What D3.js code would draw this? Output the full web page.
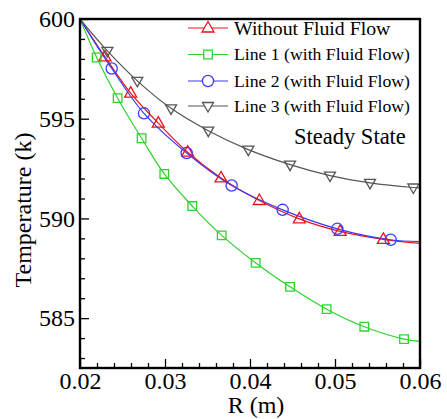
<!DOCTYPE html>
<html><head><meta charset="utf-8">
<script src="https://cdn.jsdelivr.net/npm/d3@7"></script>
<style>
html,body{margin:0;padding:0;background:#fff;}
</style></head>
<body>
<svg id="chart" width="447" height="419"></svg>
<script>
// ---- data ----
const xTicks = [0.02, 0.03, 0.04, 0.05, 0.06];
const yTicks = [585, 590, 595, 600];
const seriesNames = ["Without Fluid Flow", "Line 1 (with Fluid Flow)", "Line 2 (with Fluid Flow)", "Line 3 (with Fluid Flow)"];
// first and last entries are curve ends (no markers); inner entries carry markers
const rNoFlow = [0.02, 0.02294, 0.02596, 0.02921, 0.03267, 0.03659, 0.0411, 0.0458, 0.0506, 0.05569, 0.06];
const tNoFlow = [600, 598.1, 596.28, 594.78, 593.32, 592.03, 590.9, 589.98, 589.35, 588.95, 588.75];
const rLine1 = [0.02, 0.02196, 0.02443, 0.02725, 0.02992, 0.03321, 0.03667, 0.04067, 0.04471, 0.04902, 0.05345, 0.05812, 0.06];
const tLine1 = [600, 598.07, 596.03, 594.02, 592.23, 590.62, 589.15, 587.77, 586.57, 585.45, 584.57, 583.95, 583.83];
const rLine2 = [0.02, 0.02373, 0.02753, 0.03255, 0.03784, 0.04384, 0.05027, 0.05655, 0.06];
const tLine2 = [600, 597.52, 595.27, 593.28, 591.65, 590.43, 589.48, 588.93, 588.84];
const rLine3 = [0.02, 0.02322, 0.02674, 0.03071, 0.03509, 0.0398, 0.04471, 0.04941, 0.05412, 0.05922, 0.06];
const tLine3 = [600, 598.4, 596.9, 595.52, 594.4, 593.45, 592.7, 592.15, 591.78, 591.55, 591.53];
const seriesColors = ["#e8141c", "#2fd12f", "#3b3bff", "#555555"];
const seriesMarkers = ["triUp", "square", "circle", "triDown"];

const FONT = '"Liberation Serif", "Times New Roman", serif';

// ---- layout ----
const L = 80, R = 420, T = 19, B = 368;
const svg = d3.select("#chart");
const x = d3.scaleLinear().domain([0.02, 0.06]).range([L, R]);
const y = d3.scaleLinear().domain([582.5, 600]).range([B, T]);

const series = [
  {r: rNoFlow, t: tNoFlow},
  {r: rLine1, t: tLine1},
  {r: rLine2, t: tLine2},
  {r: rLine3, t: tLine3}
].map((s, i) => ({name: seriesNames[i], color: seriesColors[i], marker: seriesMarkers[i],
  pts: s.r.map((rv, j) => ({r: rv, t: s.t[j]}))}));

function markerPath(type) {
  switch (type) {
    case "triUp": return "M0,-6.5L6,4L-6,4Z";
    case "triDown": return "M0,6L5.5,-3.5L-5.5,-3.5Z";
    case "square": return "M-4.3,-4.3H4.3V4.3H-4.3Z";
    case "circle": return "M5.6,0A5.6,5.6 0 1,1 -5.6,0A5.6,5.6 0 1,1 5.6,0Z";
  }
}

// minor ticks
const xMinor = d3.range(0.02, 0.0601, 0.002).map(v => +v.toFixed(3)).filter(v => !xTicks.some(t => Math.abs(t - v) < 1e-9));
const yMinor = d3.range(583, 600.01, 1).filter(v => v % 5 !== 0);

const gx = svg.append("g").attr("transform", `translate(0,${B})`)
  .call(d3.axisBottom(x).tickValues(xTicks).tickFormat(d3.format(".2f")).tickSizeInner(-9).tickSizeOuter(0).tickPadding(4));
const gxm = svg.append("g").attr("transform", `translate(0,${B})`)
  .call(d3.axisBottom(x).tickValues(xMinor).tickFormat("").tickSizeInner(-5).tickSizeOuter(0));
const gy = svg.append("g").attr("transform", `translate(${L},0)`)
  .call(d3.axisLeft(y).tickValues(yTicks).tickFormat(d3.format("d")).tickSizeInner(-9).tickSizeOuter(0).tickPadding(5));
const gym = svg.append("g").attr("transform", `translate(${L},0)`)
  .call(d3.axisLeft(y).tickValues(yMinor).tickFormat("").tickSizeInner(-5).tickSizeOuter(0));
[gx, gxm, gy, gym].forEach(g => {
  g.attr("font-family", null);
  g.select(".domain").remove();
  g.selectAll(".tick line").attr("stroke", "#000").attr("stroke-width", 1.3);
  g.selectAll(".tick text").style("font-family", FONT).attr("font-size", 24).attr("fill", "#000");
});

// curves
const line = d3.line().x(d => x(d.r)).y(d => y(d.t)).curve(d3.curveCatmullRom.alpha(0.5));
svg.append("clipPath").attr("id", "clip").append("rect")
  .attr("x", L).attr("y", T).attr("width", R - L).attr("height", B - T);
const plot = svg.append("g").attr("clip-path", "url(#clip)");
series.forEach(s => {
  plot.append("path").attr("d", line(s.pts)).attr("fill", "none")
    .attr("stroke", s.color).attr("stroke-width", 1.2);
});
series.forEach(s => {
  svg.append("g").selectAll("path").data(s.pts.slice(1, -1)).join("path")
    .attr("transform", d => `translate(${x(d.r)},${y(d.t)})`)
    .attr("d", markerPath(s.marker)).attr("fill", "none")
    .attr("stroke", s.color).attr("stroke-width", 1.3);
});

// frame
svg.append("rect").attr("x", L).attr("y", T).attr("width", R - L).attr("height", B - T)
  .attr("fill", "none").attr("stroke", "#000").attr("stroke-width", 2.4);

// legend
const legRows = [28, 54.5, 81, 106];
series.forEach((s, i) => {
  const g = svg.append("g").attr("transform", `translate(0,${legRows[i]})`);
  g.append("line").attr("x1", 188).attr("x2", 228).attr("y1", 0).attr("y2", 0)
    .attr("stroke", s.color).attr("stroke-width", 1.2);
  g.append("path").attr("transform", "translate(208,0)").attr("d", markerPath(s.marker))
    .attr("fill", "#fff").attr("stroke", s.color).attr("stroke-width", 1.3);
  g.append("text").attr("x", 234).attr("y", 0).attr("dy", "0.33em")
    .style("font-family", FONT).attr("font-size", i === 0 ? 19.8 : 17.7).text(s.name);
});

svg.append("text").attr("x", 294).attr("y", 144).style("font-family", FONT)
  .attr("font-size", 22.5).text("Steady State");

// axis titles
svg.append("text").attr("x", 256).attr("y", 413).attr("text-anchor", "middle")
  .style("font-family", FONT).attr("font-size", 24).text("R (m)");
svg.append("text").attr("transform", "translate(31,210) rotate(-90)").attr("text-anchor", "middle")
  .style("font-family", FONT).attr("font-size", 24).text("Temperature (k)");
</script>
</body></html>
